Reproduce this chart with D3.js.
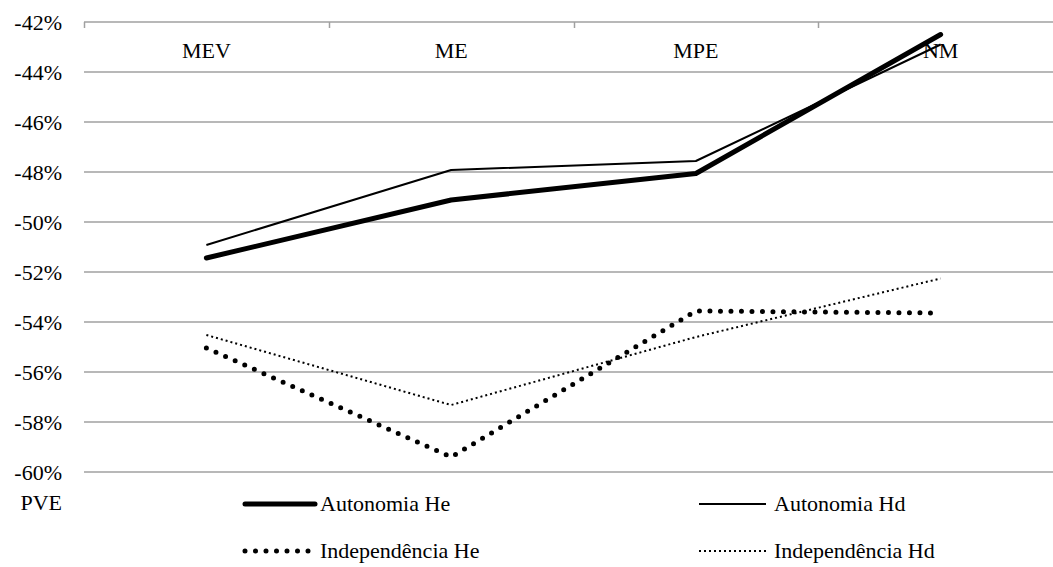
<!DOCTYPE html>
<html>
<head>
<meta charset="utf-8">
<script src="https://cdn.jsdelivr.net/npm/d3@7"></script>
<style>
  html, body { margin: 0; padding: 0; background: #fff; }
  svg { display: block; }
  text { font-family: 'Times New Roman', Times, 'Liberation Serif', 'DejaVu Serif', 'Noto Serif', serif; font-size: 22px; fill: #000; }
  .grid line { stroke: #a0a0a0; stroke-width: 1.5; }
</style>
</head>
<body>
<svg id="chart" width="1053" height="567"></svg>
<script>
// Categories and series (values in %)
const categories = ['MEV', 'ME', 'MPE', 'NM']
const autonomiaHe = [-51.44, -49.12, -48.06, -42.5]
const autonomiaHd = [-50.92, -47.92, -47.56, -42.9]
const independenciaHe = [-55.04, -59.4, -53.56, -53.64]
const independenciaHd = [-54.52, -57.32, -54.6, -52.26]
const yTicks = [-42, -44, -46, -48, -50, -52, -54, -56, -58, -60]

const series = [
  { name: 'Autonomia He', values: autonomiaHe, width: 5, dash: null, cap: 'round' },
  { name: 'Autonomia Hd', values: autonomiaHd, width: 2, dash: null, cap: 'butt' },
  { name: 'Independência He', values: independenciaHe, width: 5, dash: '0,10.5', cap: 'round' },
  { name: 'Independência Hd', values: independenciaHd, width: 2, dash: '2,3', cap: 'butt' }
]

const svg = d3.select('#chart')
const plot = { left: 84, right: 1063, top: 22, bottom: 472 }

const x = d3.scaleBand()
  .domain(categories)
  .range([plot.left, plot.right])
const y = d3.scaleLinear()
  .domain([-60, -42])
  .range([plot.bottom, plot.top])

// Gridlines
svg.append('g')
  .attr('class', 'grid')
  .selectAll('line')
  .data(yTicks)
  .join('line')
  .attr('x1', plot.left)
  .attr('x2', 1053)
  .attr('y1', d => y(d))
  .attr('y2', d => y(d))

// Category tick marks on the top axis
svg.append('g')
  .selectAll('line')
  .data(categories)
  .join('line')
  .attr('x1', d => Math.round(x(d)) + 0.5)
  .attr('x2', d => Math.round(x(d)) + 0.5)
  .attr('y1', plot.top)
  .attr('y2', plot.top + 6)
  .style('stroke', '#a0a0a0')
  .style('stroke-width', 1.5)

// Y labels
svg.append('g')
  .selectAll('text')
  .data(yTicks)
  .join('text')
  .attr('x', 62)
  .attr('y', d => y(d) + 3)
  .attr('text-anchor', 'end')
  .attr('dominant-baseline', 'middle')
  .text(d => d + '%')

svg.append('text')
  .attr('x', 62)
  .attr('y', 505)
  .attr('text-anchor', 'end')
  .attr('dominant-baseline', 'middle')
  .text('PVE')

// Category labels
svg.append('g')
  .selectAll('text')
  .data(categories)
  .join('text')
  .attr('x', d => x(d) + x.bandwidth() / 2)
  .attr('y', 53)
  .attr('text-anchor', 'middle')
  .attr('dominant-baseline', 'middle')
  .text(d => d)

// Lines
const line = d3.line()
  .x((d, i) => x(categories[i]) + x.bandwidth() / 2)
  .y(d => y(d))

svg.append('g')
  .selectAll('path')
  .data(series)
  .join('path')
  .attr('d', d => line(d.values))
  .style('fill', 'none')
  .style('stroke', '#000')
  .style('stroke-width', d => d.width)
  .style('stroke-linecap', d => d.cap)
  .style('stroke-linejoin', 'round')
  .style('stroke-dasharray', d => d.dash)

// Legend
const legendPos = [
  { x: 245, y: 504 },
  { x: 699, y: 504 },
  { x: 245, y: 551 },
  { x: 699, y: 551 }
]
const legend = svg.append('g')
  .selectAll('g')
  .data(series)
  .join('g')
  .attr('transform', (d, i) => 'translate(' + legendPos[i].x + ',' + legendPos[i].y + ')')

legend.append('line')
  .attr('x1', 0)
  .attr('x2', (d, i) => i % 2 === 0 ? 70 : 67)
  .attr('y1', 0)
  .attr('y2', 0)
  .style('stroke', '#000')
  .style('stroke-width', d => d.width)
  .style('stroke-linecap', d => d.cap)
  .style('stroke-dasharray', d => d.dash)

legend.append('text')
  .attr('x', 75)
  .attr('y', 2)
  .attr('dominant-baseline', 'middle')
  .text(d => d.name)
</script>
</body>
</html>
